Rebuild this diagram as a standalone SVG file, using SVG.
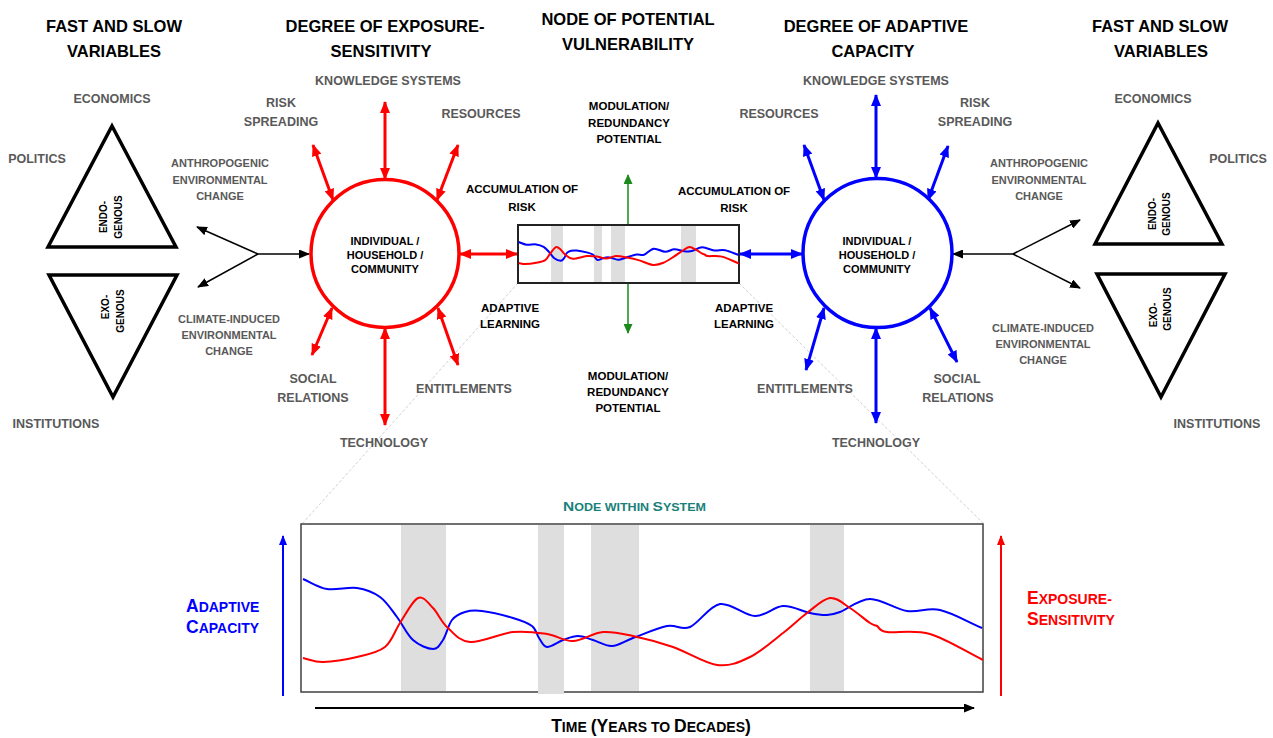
<svg xmlns="http://www.w3.org/2000/svg" xmlns:xlink="http://www.w3.org/1999/xlink" width="1273" height="738" viewBox="0 0 1273 738">
<style>
text{font-family:"Liberation Sans",Arial,sans-serif;font-weight:bold;text-anchor:middle}
.title{font-size:16.5px;fill:#000}
.lbl{font-size:12.5px;fill:#595959}
.env{font-size:11px;fill:#595959}
.blk{font-size:11.5px;fill:#000}
.inner{font-size:11px;fill:#000}
.rot{font-size:10px;fill:#000}
.red{stroke:#ff0000;stroke-width:3;fill:none;marker-start:url(#mr);marker-end:url(#mr)}
.blue{stroke:#0000ff;stroke-width:3;fill:none;marker-start:url(#mb);marker-end:url(#mb)}
.black{stroke:#000;stroke-width:1.5;fill:none;marker-end:url(#mk)}
.green{stroke:#1a8a1a;stroke-width:1.5;fill:none;marker-end:url(#mg)}
.tri{fill:#fff;stroke:#000;stroke-width:3.5;stroke-linejoin:miter}
.band{fill:#dedede}
.dot{stroke:#c4c4c4;stroke-width:0.8;stroke-dasharray:3 2;fill:none}
.cb{stroke:#0000ff;stroke-width:2;fill:none;vector-effect:non-scaling-stroke}
.cr{stroke:#ff0000;stroke-width:2;fill:none;vector-effect:non-scaling-stroke}
</style>
<defs>
<marker id="mr" viewBox="0 0 12 10" markerWidth="12" markerHeight="10" refX="11" refY="5" orient="auto-start-reverse" markerUnits="userSpaceOnUse"><path d="M0,0 L12,5 L0,10 z" fill="#ff0000"/></marker>
<marker id="mb" viewBox="0 0 12 10" markerWidth="12" markerHeight="10" refX="11" refY="5" orient="auto-start-reverse" markerUnits="userSpaceOnUse"><path d="M0,0 L12,5 L0,10 z" fill="#0000ff"/></marker>
<marker id="mk" viewBox="0 0 11 9" markerWidth="11" markerHeight="9" refX="10" refY="4.5" orient="auto" markerUnits="userSpaceOnUse"><path d="M0,0 L11,4.5 L0,9 z" fill="#000"/></marker>
<marker id="mg" viewBox="0 0 10 9" markerWidth="10" markerHeight="9" refX="9" refY="4.5" orient="auto" markerUnits="userSpaceOnUse"><path d="M0,0 L10,4.5 L0,9 z" fill="#1a8a1a"/></marker>
<marker id="mbs" viewBox="0 0 10 8" markerWidth="10" markerHeight="8" refX="9" refY="4" orient="auto" markerUnits="userSpaceOnUse"><path d="M0,0 L10,4 L0,8 z" fill="#0000ff"/></marker>
<marker id="mrs" viewBox="0 0 10 8" markerWidth="10" markerHeight="8" refX="9" refY="4" orient="auto" markerUnits="userSpaceOnUse"><path d="M0,0 L10,4 L0,8 z" fill="#ff0000"/></marker>
<path id="blueCurve" class="cb" d="M303,579 C311,582.3 318,587.5 327,589 S348.2,586.7 357,588 S373.3,592.2 380,597 S391.5,609.8 397,617 S407,634.7 413,640 S428,649 433,649 S439.8,644.8 443,640 S448.3,624.7 452,620 S460,613.5 465,612 S474,610 482,611 S504.7,615.5 513,618 S527.7,622.7 532,626 S536.5,634.5 539,638 S543,646.7 547,647 S557.8,641.8 563,640 S573,636 578,636 S587.3,638.3 593,640 S605.3,646.3 612,646 S623.8,641.3 633,638 S657.5,627.8 667,626 S681.2,630.7 690,627 S709.2,605.8 720,604 S744.5,615.7 755,616 S773.8,606.5 783,606 S802.7,611.5 810,613 S822,615.2 827,615 S832.8,614.7 840,612 S858.8,599.2 870,599 S895.3,609.2 907,611 S927.5,607.2 940,610 S968,622 982,628"/>
<path id="redCurve" class="cr" d="M303,658 C309.7,659.3 314,662.2 323,662 S346.7,659.5 357,657 S377.8,652.7 385,647 S394.5,631.2 400,623 S412.5,600.5 418,598 S428.2,603.2 433,608 S440.8,621.3 447,627 S459,641.2 470,642 S500.2,633.3 513,632 S537,632.5 547,634 S563.7,641.3 573,641 S593,632.8 603,632 S621.3,633.5 633,636 S659,642.2 673,647 S704.2,663.3 717,665 S739,662.3 750,657 S773.5,640.3 783,633 S799.2,618.8 807,613 S822.8,598.8 830,598 S843.3,603.8 850,608 S865.5,620 870,623 S874.2,624.5 877,626 S878.2,630.7 887,632 S914,629.3 930,634 S965.3,651.3 983,660"/>
</defs>
<rect width="1273" height="738" fill="#fff"/>

<g id="titles">
<text class="title" x="114" y="32">FAST AND SLOW</text>
<text class="title" x="114" y="57">VARIABLES</text>
<text class="title" x="385" y="32">DEGREE OF EXPOSURE-</text>
<text class="title" x="381" y="57">SENSITIVITY</text>
<text class="title" x="628" y="25">NODE OF POTENTIAL</text>
<text class="title" x="628" y="50">VULNERABILITY</text>
<text class="title" x="876" y="32">DEGREE OF ADAPTIVE</text>
<text class="title" x="873" y="57">CAPACITY</text>
<text class="title" x="1160" y="32">FAST AND SLOW</text>
<text class="title" x="1161" y="57">VARIABLES</text>
</g>

<g id="zoom-lines">
<line class="dot" x1="518" y1="283" x2="302" y2="524"/>
<line class="dot" x1="739" y1="283" x2="984" y2="524"/>
</g>

<g id="connectors">
<path class="black" d="M258,254 L309,254"/>
<path class="black" d="M258,254 L197,227"/>
<path class="black" d="M258,254 L198,287"/>
<path class="black" d="M1013,254 L953,254"/>
<path class="black" d="M1013,254 L1080,220"/>
<path class="black" d="M1013,254 L1080,288"/>
<path class="red" d="M385,102 L385,179"/>
<path class="red" d="M385,328 L385,425"/>
<path class="red" d="M313,145 L333,200"/>
<path class="red" d="M458,145 L437,200"/>
<path class="red" d="M332,308 L312,355"/>
<path class="red" d="M438,308 L458,365"/>
<path class="red" d="M460,254 L517,254"/>
<path class="blue" d="M876,95 L876,178"/>
<path class="blue" d="M876,328 L876,423"/>
<path class="blue" d="M804,145 L824,200"/>
<path class="blue" d="M948,146 L928,200"/>
<path class="blue" d="M824,308 L806,370"/>
<path class="blue" d="M930,308 L957,362"/>
<path class="blue" d="M740,254 L802,254"/>
<path class="green" d="M628,225 L628,175"/>
<path class="green" d="M628,283 L628,333"/>
</g>

<g id="left-endo">
<polygon class="tri" points="112,126 176,247 48,247"/>
<text class="rot" transform="translate(107,217) rotate(-90)">ENDO-</text>
<text class="rot" transform="translate(122,217) rotate(-90)">GENOUS</text>
</g>
<g id="left-exo">
<polygon class="tri" points="49,275 177,275 113,397"/>
<text class="rot" transform="translate(109,307) rotate(-90)">EXO-</text>
<text class="rot" transform="translate(124,311) rotate(-90)">GENOUS</text>
</g>
<g id="left-labels">
<text class="lbl" x="112" y="103">ECONOMICS</text>
<text class="lbl" x="37" y="163">POLITICS</text>
<text class="lbl" x="56" y="428">INSTITUTIONS</text>
<text class="env" x="220" y="167">ANTHROPOGENIC</text>
<text class="env" x="220" y="184">ENVIRONMENTAL</text>
<text class="env" x="220" y="200">CHANGE</text>
<text class="env" x="229" y="323">CLIMATE-INDUCED</text>
<text class="env" x="229" y="339">ENVIRONMENTAL</text>
<text class="env" x="229" y="355">CHANGE</text>
</g>

<g id="exposure-node">
<circle cx="385" cy="253.5" r="74" fill="#fff" stroke="#ff0000" stroke-width="3.5"/>
<text class="inner" x="385" y="245">INDIVIDUAL /</text>
<text class="inner" x="385" y="259">HOUSEHOLD /</text>
<text class="inner" x="385" y="273">COMMUNITY</text>
<text class="lbl" x="388" y="85">KNOWLEDGE SYSTEMS</text>
<text class="lbl" x="281" y="107">RISK</text>
<text class="lbl" x="281" y="126">SPREADING</text>
<text class="lbl" x="481" y="118">RESOURCES</text>
<text class="lbl" x="313" y="383">SOCIAL</text>
<text class="lbl" x="313" y="402">RELATIONS</text>
<text class="lbl" x="464" y="393">ENTITLEMENTS</text>
<text class="lbl" x="384" y="447">TECHNOLOGY</text>
</g>

<g id="vulnerability-node">
<rect x="518" y="225" width="221" height="58" fill="#fff" stroke="#222" stroke-width="2"/>
<rect class="band" x="551" y="226" width="12" height="56"/>
<rect class="band" x="594" y="226" width="8" height="56"/>
<rect class="band" x="611" y="226" width="14" height="56"/>
<rect class="band" x="681" y="226" width="15" height="56"/>
<g transform="matrix(0.324 0 0 0.266 420.5 88)">
<use xlink:href="#blueCurve"/>
<use xlink:href="#redCurve"/>
</g>
<text class="blk" x="629" y="110">MODULATION/</text>
<text class="blk" x="629" y="127">REDUNDANCY</text>
<text class="blk" x="629" y="143">POTENTIAL</text>
<text class="blk" x="628" y="380">MODULATION/</text>
<text class="blk" x="628" y="396">REDUNDANCY</text>
<text class="blk" x="628" y="412">POTENTIAL</text>
<text class="blk" x="522" y="193">ACCUMULATION OF</text>
<text class="blk" x="522" y="211">RISK</text>
<text class="blk" x="734" y="195">ACCUMULATION OF</text>
<text class="blk" x="734" y="212">RISK</text>
<text class="blk" x="510" y="312">ADAPTIVE</text>
<text class="blk" x="510" y="328">LEARNING</text>
<text class="blk" x="744" y="312">ADAPTIVE</text>
<text class="blk" x="744" y="328">LEARNING</text>
</g>

<g id="adaptive-node">
<circle cx="877.5" cy="253" r="74.5" fill="#fff" stroke="#0000ff" stroke-width="3.5"/>
<text class="inner" x="877" y="245">INDIVIDUAL /</text>
<text class="inner" x="877" y="259">HOUSEHOLD /</text>
<text class="inner" x="877" y="273">COMMUNITY</text>
<text class="lbl" x="876" y="85">KNOWLEDGE SYSTEMS</text>
<text class="lbl" x="779" y="118">RESOURCES</text>
<text class="lbl" x="975" y="107">RISK</text>
<text class="lbl" x="975" y="126">SPREADING</text>
<text class="lbl" x="805" y="393">ENTITLEMENTS</text>
<text class="lbl" x="957" y="383">SOCIAL</text>
<text class="lbl" x="958" y="402">RELATIONS</text>
<text class="lbl" x="876" y="447">TECHNOLOGY</text>
</g>

<g id="right-endo">
<polygon class="tri" points="1158,123 1222,244 1095,244"/>
<text class="rot" transform="translate(1156,214) rotate(-90)">ENDO-</text>
<text class="rot" transform="translate(1170,214) rotate(-90)">GENOUS</text>
</g>
<g id="right-exo">
<polygon class="tri" points="1097,274 1225,274 1161,397"/>
<text class="rot" transform="translate(1157,315) rotate(-90)">EXO-</text>
<text class="rot" transform="translate(1171,309) rotate(-90)">GENOUS</text>
</g>
<g id="right-labels">
<text class="lbl" x="1153" y="103">ECONOMICS</text>
<text class="lbl" x="1238" y="163">POLITICS</text>
<text class="lbl" x="1217" y="428">INSTITUTIONS</text>
<text class="env" x="1039" y="167">ANTHROPOGENIC</text>
<text class="env" x="1039" y="184">ENVIRONMENTAL</text>
<text class="env" x="1039" y="200">CHANGE</text>
<text class="env" x="1043" y="332">CLIMATE-INDUCED</text>
<text class="env" x="1043" y="348">ENVIRONMENTAL</text>
<text class="env" x="1043" y="364">CHANGE</text>
</g>

<g id="system-chart">
<text x="634.5" y="511" font-size="13" fill="#17817a" textLength="143" lengthAdjust="spacingAndGlyphs">N<tspan font-size="10.5">ODE WITHIN </tspan>S<tspan font-size="10.5">YSTEM</tspan></text>
<rect x="301" y="524" width="682" height="168" fill="#fff" stroke="#404040" stroke-width="1.5"/>
<rect class="band" x="401" y="525" width="45" height="166"/>
<rect class="band" x="538" y="525" width="26" height="169"/>
<rect class="band" x="591" y="525" width="48" height="166"/>
<rect class="band" x="810" y="525" width="34" height="166"/>
<use xlink:href="#blueCurve"/>
<use xlink:href="#redCurve"/>
<path d="M283,696 L283,536" stroke="#0000ff" stroke-width="2" fill="none" marker-end="url(#mbs)"/>
<path d="M1001,696 L1001,536" stroke="#ff0000" stroke-width="2" fill="none" marker-end="url(#mrs)"/>
<path d="M315,708 L974,708" stroke="#000" stroke-width="2" fill="none" marker-end="url(#mk)"/>
<text x="186" y="612" font-size="17.5" fill="#0000ff" style="text-anchor:start">A<tspan font-size="14">DAPTIVE</tspan></text>
<text x="186" y="633" font-size="17.5" fill="#0000ff" style="text-anchor:start">C<tspan font-size="14">APACITY</tspan></text>
<text x="1027" y="604" font-size="17.5" fill="#ff0000" style="text-anchor:start">E<tspan font-size="14">XPOSURE-</tspan></text>
<text x="1027" y="625" font-size="17.5" fill="#ff0000" style="text-anchor:start">S<tspan font-size="14">ENSITIVITY</tspan></text>
<text x="651" y="732" font-size="17.5" fill="#000">T<tspan font-size="14">IME </tspan>(Y<tspan font-size="14">EARS TO </tspan>D<tspan font-size="14">ECADES</tspan>)</text>
</g>
</svg>
